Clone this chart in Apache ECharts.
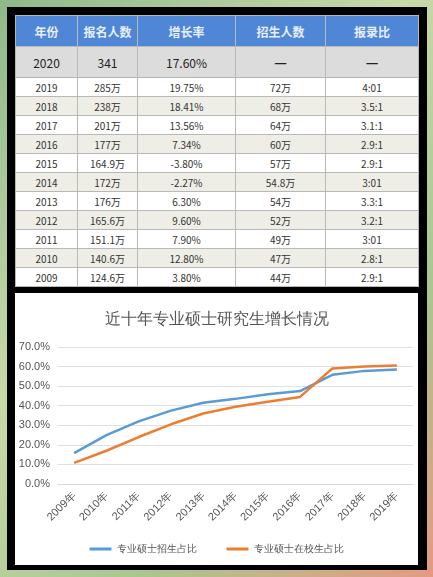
<!DOCTYPE html>
<html><head><meta charset="utf-8">
<script src="https://cdn.jsdelivr.net/npm/echarts@6/dist/echarts.min.js"></script>
<style>
body{margin:0;width:433px;height:577px;background:linear-gradient(135deg,#8fb98a,#c9d9a8 40%,#a8c890 70%,#e59a80);font-family:"Noto Sans CJK SC",sans-serif;overflow:hidden}
#frame{position:absolute;left:7px;top:7px;width:420px;height:563px;background:#000}
table{position:absolute;left:15px;top:15px;width:403px;border-collapse:collapse;table-layout:fixed}
td,th{border:1px solid #b8b8b8;text-align:center;font-size:10px;color:#333;padding:0;height:18px;font-weight:normal}
th{background:#4f86d6;color:#e8eefa;height:30px;font-size:12px;font-weight:bold}
tr.first td{background:#dcdcdc;height:30px;font-size:12px;color:#222}
tr.odd td{background:#fff}
tr.even td{background:#efeee6}
#chart{position:absolute;left:15px;top:293px;width:403px;height:272px;background:#fff}
</style></head><body>
<div id="frame"></div>
<table id="tbl"></table>
<div id="chart"></div>
<script>
const headers=['年份','报名人数','增长率','招生人数','报录比'];
const tYears=['2020','2019','2018','2017','2016','2015','2014','2013','2012','2011','2010','2009'];
const applicants=['341','285万','238万','201万','177万','164.9万','172万','176万','165.6万','151.1万','140.6万','124.6万'];
const growth=['17.60%','19.75%','18.41%','13.56%','7.34%','-3.80%','-2.27%','6.30%','9.60%','7.90%','12.80%','3.80%'];
const admitted=['—','72万','68万','64万','60万','57万','54.8万','54万','52万','49万','47万','44万'];
const ratio=['—','4:01','3.5:1','3.1:1','2.9:1','2.9:1','3:01','3.3:1','3.2:1','3:01','2.8:1','2.9:1'];
const colW=[62,60,98,90,93];
let h='<colgroup>'+colW.map(w=>`<col style="width:${w}px">`).join('')+'</colgroup><tr>'+headers.map(x=>`<th>${x}</th>`).join('')+'</tr>';
tYears.forEach((y,i)=>{const c=i===0?'first':(i%2?'odd':'even');
const dash=v=>v==='—'?'<b style="font-size:14px">—</b>':v;
h+=`<tr class="${c}"><td>${y}</td><td>${applicants[i]}</td><td>${growth[i]}</td><td>${dash(admitted[i])}</td><td>${dash(ratio[i])}</td></tr>`;});
document.getElementById('tbl').innerHTML=h;

const years=['2009年','2010年','2011年','2012年','2013年','2014年','2015年','2016年','2017年','2018年','2019年'];
const enrollShare=[15.8,25,32,37.5,41.5,43.5,45.8,47.5,55.8,57.8,58.5];
const studentShare=[10.8,17,24,30.5,36,39.5,42,44.5,59,60,60.5];
const ch=echarts.init(document.getElementById('chart'));
ch.setOption({
 title:{text:'近十年专业硕士研究生增长情况',left:'center',top:14,textStyle:{fontSize:16,fontWeight:'normal',color:'#555'}},
 grid:{left:43,right:5,top:54,bottom:81},
 legend:{bottom:6,itemWidth:22,itemHeight:3,icon:'rect',textStyle:{fontSize:10,color:'#555'},itemGap:30},
 xAxis:{type:'category',data:years,boundaryGap:true,axisLine:{lineStyle:{color:'#d9d9d9'}},axisTick:{show:false},axisLabel:{rotate:45,fontSize:11,color:'#555',margin:10}},
 yAxis:{type:'value',min:0,max:70,interval:10,axisLabel:{formatter:v=>v.toFixed(1)+'%',fontSize:11,color:'#555'},splitLine:{lineStyle:{color:'#e0e0e0'}}},
 series:[
  {name:'专业硕士招生占比',type:'line',data:enrollShare,symbol:'none',lineStyle:{width:2.5,color:'#5b9bd5'},itemStyle:{color:'#5b9bd5'}},
  {name:'专业硕士在校生占比',type:'line',data:studentShare,symbol:'none',lineStyle:{width:2.5,color:'#ed7d31'},itemStyle:{color:'#ed7d31'}}
 ]
});
</script></body></html>
